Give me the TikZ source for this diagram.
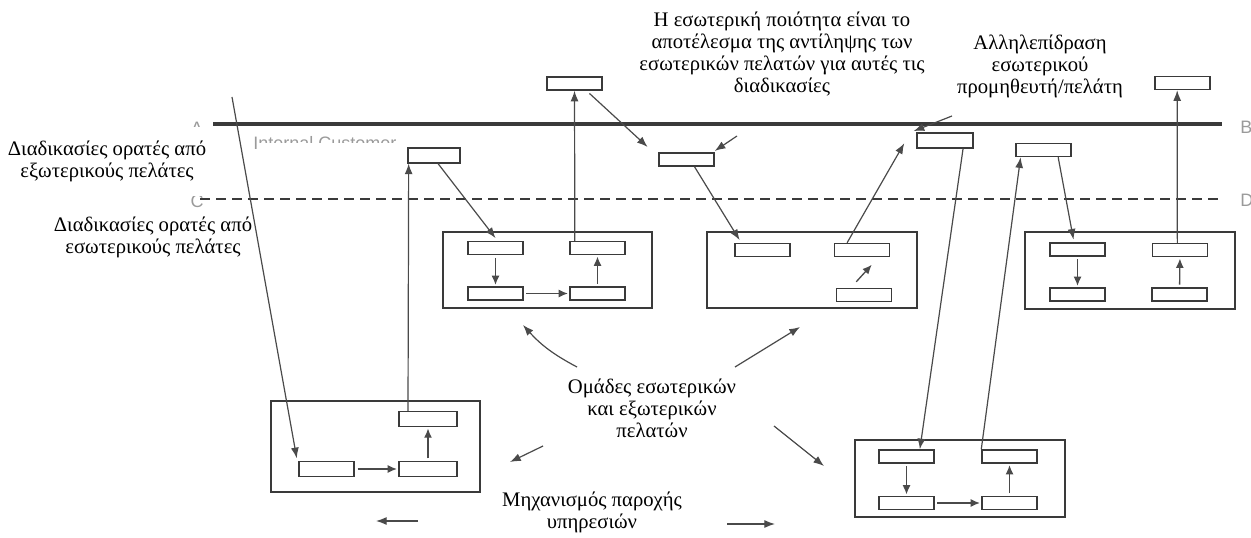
\documentclass[tikz,border=0pt]{standalone}
\usepackage{fontspec}
\setmainfont{Liberation Serif}
\setsansfont{Liberation Sans}
\usetikzlibrary{arrows.meta}
\definecolor{ink}{HTML}{3A3A3A}
\definecolor{wire}{HTML}{4A4A4A}
\definecolor{faded}{HTML}{9A9A9A}
\begin{document}
\begin{tikzpicture}[x=0.75pt,y=-0.75pt,
  lbl/.style={font=\fontsize{15.5}{16.5}\selectfont, align=center, inner sep=0pt},
  remn/.style={font=\sffamily\fontsize{13.5}{15}\selectfont, text=faded, inner sep=0pt},
  sbox/.style={draw=ink, line width=1.1pt, minimum width=41.25pt, minimum height=9.75pt, inner sep=0pt},
  grp/.style 2 args={draw=ink, line width=0.9pt, inner sep=0pt, minimum width=#1*0.75pt, minimum height=#2*0.75pt},
  arr/.style={draw=wire, line width=0.9pt, -{Latex[length=8pt,width=6pt]}},
  tip/.style={draw=wire, line width=1pt, -{Latex[length=7pt,width=6pt]}, shorten <=2pt, shorten >=1pt},
]
\useasboundingbox (0,0) rectangle (1251,538);

% faded letters and caption of the underlying scheme
\node[remn, anchor=base] (ta) at (197,135) {A};
\node[remn, anchor=base] (tc) at (197,208) {C};
\node[remn, anchor=base west] (tb) at (1240,134) {B};
\node[remn, anchor=base west] (td) at (1240,207) {D};
\node[remn, anchor=north west] (ic) at (253,136) {Internal Customer};
\fill[white] (258,143) rectangle (400,188);
\fill[white] (0,127) rectangle (238,196);

% boundary lines
\coordinate (lineA) at (213,124);
\coordinate (lineB) at (1222,124);
\coordinate (lineC) at (200,199);
\coordinate (lineD) at (1222,199);
\draw[ink, line width=3pt] (lineA) -- (lineB);
\draw[ink, line width=1.5pt, dash pattern=on 7.5pt off 4.5pt] (lineC) -- (lineD);

% customer groups
\node[grp={209}{76}] (g1) at (547.5,270) {};
\node[grp={210}{76}] (g2) at (812,270) {};
\node[grp={210}{77}] (g3) at (1130,270.5) {};
\node[grp={209}{91}] (g4) at (375.5,446.5) {};
\node[grp={210}{77}] (g5) at (960,478.5) {};

% process steps
\node[sbox] (g1tl) at (495.5,248) {};
\node[sbox] (g1tr) at (597.5,248) {};
\node[sbox] (g1bl) at (495.5,293.5) {};
\node[sbox] (g1br) at (597.5,293.5) {};
\node[sbox] (g2tl) at (762.5,250) {};
\node[sbox] (g2tr) at (862,250) {};
\node[sbox] (g2br) at (864,295) {};
\node[sbox] (g3tl) at (1077.5,249.5) {};
\node[sbox] (g3tr) at (1180,250) {};
\node[sbox] (g3bl) at (1077.5,294.5) {};
\node[sbox] (g3br) at (1179.5,294.5) {};
\node[sbox, minimum width=43.5pt, minimum height=11pt] (g4tr) at (428,419) {};
\node[sbox, minimum width=41.5pt, minimum height=11pt] (g4bl) at (326.5,469) {};
\node[sbox, minimum width=43.5pt, minimum height=11pt] (g4br) at (428,469) {};
\node[sbox] (g5tl) at (906.5,456.5) {};
\node[sbox] (g5tr) at (1009.5,456.5) {};
\node[sbox] (g5bl) at (906.5,503) {};
\node[sbox] (g5br) at (1009.5,503) {};
\node[sbox] (s1) at (574.5,83.5) {};
\node[sbox] (str) at (1182.5,83) {};
\node[sbox, minimum width=39pt, minimum height=11pt] (e1) at (434,155.5) {};
\node[sbox] (e2) at (686.5,159.5) {};
\node[sbox, minimum width=42pt, minimum height=11pt] (e3) at (945,140.5) {};
\node[sbox] (e4) at (1043.5,150) {};

% flows inside the groups
\draw[tip] (g1tl) -- (g1bl);
\draw[tip] (g1bl) -- (g1br);
\draw[tip] (g1br) -- (g1tr);
\draw[tip] ([xshift=14pt,yshift=3pt]g2br.north west) -- ([xshift=8pt,yshift=-4.9pt]g2tr.south);
\draw[tip] (g3tl) -- (g3bl);
\draw[tip] (g3br) -- (g3tr);
\draw[tip] (g4bl) -- (g4br);
\draw[tip] (g4br) -- (g4tr);
\draw[tip] (g5tl) -- (g5bl);
\draw[tip] (g5bl) -- (g5br);
\draw[tip] (g5br) -- (g5tr);

% flows between the groups and the visible steps
\coordinate (dtop) at (232,97);
\draw[arr] (dtop) -- ([xshift=-1pt,yshift=2pt]g4bl.north west);
\draw[arr] ([xshift=-15pt]g4tr.north) -- ([xshift=-19pt]e1.south);
\draw[arr] ([xshift=3pt]e1.south) -- ([yshift=2pt]g1tl.north);
\draw[arr] ([xshift=-17pt]g1tr.north) -- (s1.south);
\draw[arr] ([xshift=-10pt,yshift=-2pt]s1.south east) -- ([xshift=-8pt,yshift=4pt]e2.north west);
\coordinate (q1) at (737,136);
\draw[arr] (q1) -- ([yshift=1pt]e2.north east);
\draw[arr] ([xshift=6pt]e2.south) -- ([xshift=4pt,yshift=2pt]g2tl.north west);
\draw[arr] ([xshift=10pt]g2tr.north west) -- ([xshift=-9pt,yshift=4pt]e3.south west);
\coordinate (q2) at (952,116);
\draw[arr] (q2) -- ([xshift=-2pt,yshift=1pt]e3.north west);
\draw[arr] ([xshift=-8pt]e3.south east) -- ([xshift=10pt]g5tl.north);
\draw[arr] (g5tr.north west) -- ([xshift=4pt]e4.south west);
\draw[arr] ([xshift=11pt]e4.south) -- ([xshift=-3pt,yshift=2pt]g3tl.north);
\draw[arr] ([xshift=-2pt]g3tr.north) -- ([xshift=-4pt]str.south);

% pointers around the captions
\coordinate (o1t) at (577,367); \coordinate (o1h) at (523,325);
\coordinate (o2t) at (735,367); \coordinate (o2h) at (800,327);
\coordinate (o3t) at (543,446); \coordinate (o3h) at (510,462);
\coordinate (o4t) at (774,426); \coordinate (o4h) at (824,466);
\coordinate (m1t) at (418,521); \coordinate (m1h) at (376,521);
\coordinate (m2t) at (727,524); \coordinate (m2h) at (775,524);
\draw[arr] (o1t) to[bend left=10] (o1h);
\draw[arr] (o2t) -- (o2h);
\draw[arr] (o3t) -- (o3h);
\draw[arr] (o4t) -- (o4h);
\draw[arr] (m1t) -- (m1h);
\draw[arr] (m2t) -- (m2h);

% captions
\node[lbl] (qual) at (782,54) {Η εσωτερική ποιότητα είναι το\\αποτέλεσμα της αντίληψης των\\εσωτερικών πελατών για αυτές τις\\διαδικασίες};
\node[lbl] (inter) at (1040,66) {Αλληλεπίδραση\\εσωτερικού\\προμηθευτή/πελάτη};
\node[lbl] (extv) at (107,161) {Διαδικασίες ορατές από\\εξωτερικούς πελάτες};
\node[lbl] (intv) at (153,237) {Διαδικασίες ορατές από\\εσωτερικούς πελάτες};
\node[lbl] (teams) at (652,408) {Ομάδες εσωτερικών\\και εξωτερικών\\πελατών};
\node[lbl] (mech) at (592,512) {Μηχανισμός παροχής\\υπηρεσιών};
\end{tikzpicture}
\end{document}
